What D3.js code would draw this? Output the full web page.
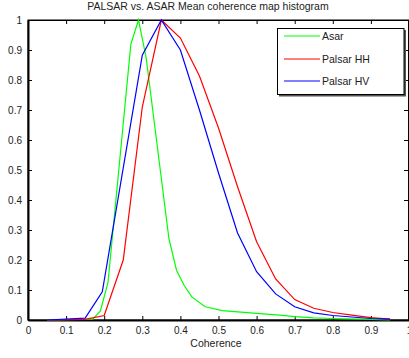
<!DOCTYPE html>
<html><head><meta charset="utf-8">
<script src="https://cdn.jsdelivr.net/npm/d3@7"></script>
<style>body{margin:0;background:#fff}svg{display:block}text{font-family:"Liberation Sans",Arial,sans-serif;fill:#222}</style>
</head><body><svg id="c" width="409" height="358"></svg>
<script>
const title = "PALSAR vs. ASAR Mean coherence map histogram";
const xLabel = "Coherence";
const seriesNames = ["Asar", "Palsar HH", "Palsar HV"];
const seriesColors = ["#00ff00", "#ff0000", "#0000ff"];
const asarX = [0.05,0.17,0.19,0.21,0.27,0.29,0.31,0.37,0.39,0.41,0.43,0.465,0.51,0.6,0.66,0.7,0.75,0.8,0.9,0.95];
const asarY = [0,0.003,0.03,0.125,0.92,1,0.875,0.27,0.165,0.115,0.077,0.044,0.031,0.022,0.016,0.011,0.007,0.005,0.002,0];
const hhX = [0.05,0.15,0.2,0.25,0.3,0.35,0.4,0.45,0.5,0.55,0.6,0.65,0.7,0.75,0.8,0.85,0.9,0.95];
const hhY = [0,0.002,0.015,0.2,0.71,1,0.94,0.813,0.64,0.444,0.261,0.137,0.068,0.039,0.025,0.016,0.008,0.003];
const hvX = [0.05,0.15,0.195,0.3,0.35,0.4,0.45,0.5,0.55,0.6,0.65,0.7,0.75,0.8,0.85,0.9,0.95];
const hvY = [0,0.006,0.094,0.883,1,0.9,0.70,0.49,0.29,0.161,0.087,0.044,0.024,0.015,0.01,0.005,0.003];
const xTicks = [0,0.1,0.2,0.3,0.4,0.5,0.6,0.7,0.8,0.9,1];
const yTicks = [0,0.1,0.2,0.3,0.4,0.5,0.6,0.7,0.8,0.9,1];

const svg = d3.select("#c");
const L=28, R=409, T=20, B=320;
const x = d3.scaleLinear().domain([0,1]).range([L,R]);
const y = d3.scaleLinear().domain([0,1]).range([B,T]);

svg.append("rect").attr("x",L).attr("y",T).attr("width",R-L).attr("height",B-T).attr("fill","none").attr("stroke","#000").attr("stroke-width",1);

const axB = svg.append("g").attr("transform",`translate(0,${B})`).call(d3.axisBottom(x).tickValues(xTicks).tickFormat(d3.format("~g")).tickSizeInner(-4).tickSizeOuter(0).tickPadding(7));
const axL = svg.append("g").attr("transform",`translate(${L},0)`).call(d3.axisLeft(y).tickValues(yTicks).tickFormat(d3.format("~g")).tickSizeInner(-4).tickSizeOuter(0).tickPadding(6));
const axT = svg.append("g").attr("transform",`translate(0,${T})`).call(d3.axisTop(x).tickValues(xTicks).tickFormat("").tickSizeInner(-4).tickSizeOuter(0));
const axR = svg.append("g").attr("transform",`translate(${R-1},0)`).call(d3.axisRight(y).tickValues(yTicks).tickFormat("").tickSizeInner(-4).tickSizeOuter(0));
[axB,axL,axT,axR].forEach(a=>{a.select(".domain").attr("stroke","#000");a.selectAll(".tick line").attr("stroke","#000");a.selectAll("text").attr("font-size",10).attr("fill","#222").attr("font-family","Liberation Sans, Arial, sans-serif");});
axB.select(".domain").attr("stroke-width",2);
axL.select(".domain").attr("stroke-width",2);

const data = [asarX.map((v,i)=>[v,asarY[i]]), hhX.map((v,i)=>[v,hhY[i]]), hvX.map((v,i)=>[v,hvY[i]])];
const line = d3.line().x(d=>x(d[0])).y(d=>y(d[1]));
data.forEach((d,i)=>{
  svg.append("path").attr("d",line(d)).attr("fill","none").attr("stroke",seriesColors[i]).attr("stroke-width",1.2);
});

svg.append("text").attr("x",208).attr("y",10).attr("text-anchor","middle").attr("font-size",10.5).text(title);
svg.append("text").attr("x",216).attr("y",346.5).attr("text-anchor","middle").attr("font-size",10.5).text(xLabel);

// legend
const lg = svg.append("g");
lg.append("rect").attr("x",279).attr("y",30).attr("width",127).attr("height",66.5).attr("fill","#555");
lg.append("rect").attr("x",277.5).attr("y",28.5).attr("width",126.5).attr("height",66).attr("fill","#fff").attr("stroke","#000").attr("stroke-width",1);
const rowsY=[36,59,81];
seriesNames.forEach((n,i)=>{
  lg.append("line").attr("x1",284).attr("x2",320).attr("y1",rowsY[i]).attr("y2",rowsY[i]).attr("stroke",seriesColors[i]).attr("stroke-width",1.2);
  lg.append("text").attr("x",322).attr("y",rowsY[i]+4).attr("font-size",10.5).text(n);
});
</script></body></html>
